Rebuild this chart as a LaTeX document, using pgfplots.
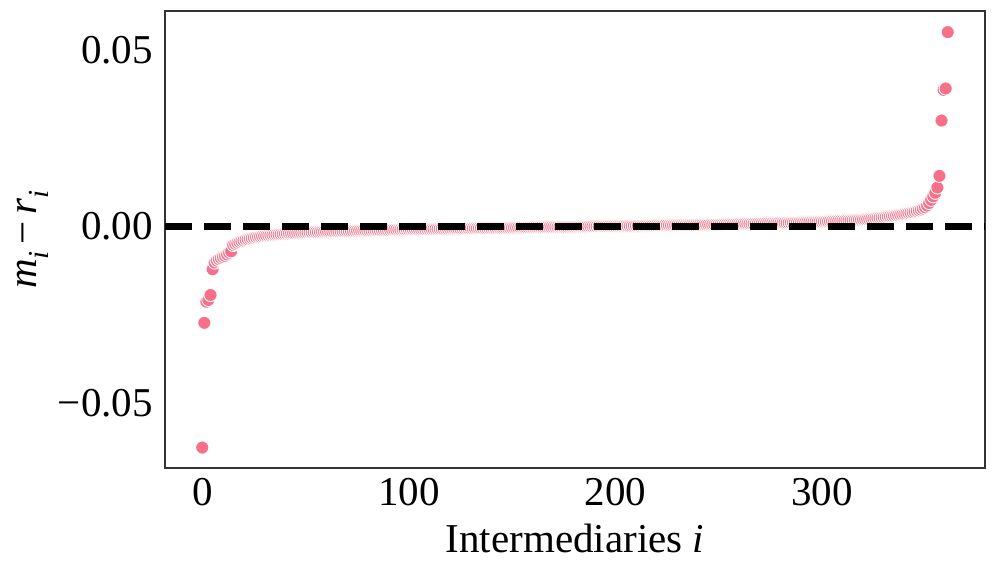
\documentclass[border=0pt]{standalone}
\usepackage{fontspec}
\setmainfont{Liberation Serif}
\usepackage{pgfplots}
\pgfplotsset{compat=1.18}
\definecolor{pts}{RGB}{247,112,137}
\definecolor{axgray}{RGB}{51,51,51}
\begin{document}
\begin{tikzpicture}
\begin{axis}[
 at={(0pt,0pt)}, anchor=south west,
 scale only axis, width=820pt, height=457pt,
 clip mode=individual,
 xmin=-18.05, xmax=379.05, ymin=-0.0685, ymax=0.0612,
 axis line style={axgray, line width=1.25pt},
 major tick length=0pt,
 xtick={0,100,200,300}, xticklabels={0,100,200,300},
 ytick={-0.05,0,0.05}, yticklabels={−0.05,0.00,0.05},
 scaled y ticks=false, scaled x ticks=false,
 font=\fontsize{41}{49}\selectfont,
 xticklabel style={anchor=north, inner sep=0pt, yshift=-10pt},
 yticklabel style={anchor=east, inner sep=0pt, xshift=-12pt},
 xlabel={Intermediaries \textit{i}},
 ylabel={\textit{m}\raisebox{-0.28em}{\fontsize{29}{30}\selectfont\textit{i}}\,−\,\textit{r}\raisebox{-0.28em}{\fontsize{29}{30}\selectfont\textit{i}}},
 xlabel style={at={(axis description cs:0.5,-0.1838)}, anchor=base, inner sep=0pt},
 ylabel style={at={(axis description cs:-0.161,0.5)}, anchor=center, inner sep=0pt},
]
\addplot[only marks, mark=*, mark size=6.6pt, mark options={fill=pts, draw=white, line width=0.9pt}] coordinates {
(0,-62.7e-3) (1,-27.3e-3) (2,-21.3e-3) (3,-20.8e-3) (4,-19.4e-3) (5,-12.1e-3) (6,-10.2e-3) (7,-9.6e-3) (8,-9.2e-3) (9,-8.9e-3)
(10,-8.6e-3) (11,-8.3e-3) (12,-7.9e-3) (13,-7.4e-3) (14,-7.0e-3) (15,-5.2e-3) (16,-4.9e-3) (17,-4.6e-3) (18,-4.35e-3) (19,-4.1e-3)
(20,-3.9e-3) (21,-3.7e-3) (22,-3.55e-3) (23,-3.4e-3) (24,-3.25e-3) (25,-3.12e-3) (26,-3.0e-3) (27,-2.9e-3) (28,-2.8e-3) (29,-2.71e-3)
(30,-2.63e-3) (31,-2.55e-3) (32,-2.48e-3) (33,-2.41e-3) (34,-2.35e-3) (35,-2.29e-3) (36,-2.23e-3) (37,-2.18e-3) (38,-2.13e-3) (39,-2.08e-3)
(40,-2.03e-3) (41,-1.99e-3) (42,-1.95e-3) (43,-1.91e-3) (44,-1.87e-3) (45,-1.83e-3) (46,-1.79e-3) (47,-1.75e-3) (48,-1.71e-3) (49,-1.67e-3)
(50,-1.64e-3) (51,-1.62e-3) (52,-1.60e-3) (53,-1.59e-3) (54,-1.57e-3) (55,-1.55e-3) (56,-1.53e-3) (57,-1.51e-3) (58,-1.49e-3) (59,-1.47e-3)
(60,-1.45e-3) (61,-1.43e-3) (62,-1.42e-3) (63,-1.40e-3) (64,-1.38e-3) (65,-1.36e-3) (66,-1.34e-3) (67,-1.32e-3) (68,-1.31e-3) (69,-1.29e-3)
(70,-1.27e-3) (71,-1.25e-3) (72,-1.24e-3) (73,-1.22e-3) (74,-1.20e-3) (75,-1.18e-3) (76,-1.17e-3) (77,-1.15e-3) (78,-1.13e-3) (79,-1.12e-3)
(80,-1.10e-3) (81,-1.08e-3) (82,-1.07e-3) (83,-1.05e-3) (84,-1.04e-3) (85,-1.02e-3) (86,-1.01e-3) (87,-0.99e-3) (88,-0.98e-3) (89,-0.96e-3)
(90,-0.95e-3) (91,-0.93e-3) (92,-0.92e-3) (93,-0.90e-3) (94,-0.89e-3) (95,-0.88e-3) (96,-0.86e-3) (97,-0.85e-3) (98,-0.84e-3) (99,-0.82e-3)
(100,-0.81e-3) (101,-0.80e-3) (102,-0.79e-3) (103,-0.78e-3) (104,-0.77e-3) (105,-0.76e-3) (106,-0.75e-3) (107,-0.74e-3) (108,-0.73e-3) (109,-0.72e-3)
(110,-0.71e-3) (111,-0.70e-3) (112,-0.69e-3) (113,-0.68e-3) (114,-0.67e-3) (115,-0.66e-3) (116,-0.65e-3) (117,-0.64e-3) (118,-0.63e-3) (119,-0.62e-3)
(120,-0.61e-3) (121,-0.60e-3) (122,-0.59e-3) (123,-0.58e-3) (124,-0.57e-3) (125,-0.56e-3) (126,-0.55e-3) (127,-0.54e-3) (128,-0.53e-3) (129,-0.52e-3)
(130,-0.51e-3) (131,-0.50e-3) (132,-0.49e-3) (133,-0.48e-3) (134,-0.47e-3) (135,-0.46e-3) (136,-0.45e-3) (137,-0.44e-3) (138,-0.43e-3) (139,-0.42e-3)
(140,-0.41e-3) (141,-0.40e-3) (142,-0.39e-3) (143,-0.38e-3) (144,-0.37e-3) (145,-0.36e-3) (146,-0.35e-3) (147,-0.34e-3) (148,-0.33e-3) (149,-0.32e-3)
(150,-0.31e-3) (151,-0.30e-3) (152,-0.29e-3) (153,-0.28e-3) (154,-0.27e-3) (155,-0.26e-3) (156,-0.25e-3) (157,-0.24e-3) (158,-0.23e-3) (159,-0.22e-3)
(160,-0.21e-3) (161,-0.20e-3) (162,-0.19e-3) (163,-0.18e-3) (164,-0.17e-3) (165,-0.16e-3) (166,-0.15e-3) (167,-0.14e-3) (168,-0.13e-3) (169,-0.12e-3)
(170,-0.11e-3) (171,-0.10e-3) (172,-0.09e-3) (173,-0.08e-3) (174,-0.07e-3) (175,-0.06e-3) (176,-0.05e-3) (177,-0.04e-3) (178,-0.03e-3) (179,-0.02e-3)
(180,-0.01e-3) (181,0.00e-3) (182,0.01e-3) (183,0.02e-3) (184,0.03e-3) (185,0.03e-3) (186,0.04e-3) (187,0.05e-3) (188,0.06e-3) (189,0.07e-3)
(190,0.08e-3) (191,0.09e-3) (192,0.10e-3) (193,0.10e-3) (194,0.11e-3) (195,0.12e-3) (196,0.13e-3) (197,0.14e-3) (198,0.15e-3) (199,0.16e-3)
(200,0.17e-3) (201,0.17e-3) (202,0.18e-3) (203,0.19e-3) (204,0.20e-3) (205,0.21e-3) (206,0.22e-3) (207,0.23e-3) (208,0.23e-3) (209,0.24e-3)
(210,0.25e-3) (211,0.26e-3) (212,0.27e-3) (213,0.28e-3) (214,0.29e-3) (215,0.30e-3) (216,0.30e-3) (217,0.31e-3) (218,0.32e-3) (219,0.33e-3)
(220,0.34e-3) (221,0.35e-3) (222,0.36e-3) (223,0.37e-3) (224,0.37e-3) (225,0.38e-3) (226,0.39e-3) (227,0.40e-3) (228,0.41e-3) (229,0.42e-3)
(230,0.43e-3) (231,0.43e-3) (232,0.44e-3) (233,0.45e-3) (234,0.46e-3) (235,0.47e-3) (236,0.48e-3) (237,0.49e-3) (238,0.50e-3) (239,0.50e-3)
(240,0.51e-3) (241,0.52e-3) (242,0.53e-3) (243,0.54e-3) (244,0.55e-3) (245,0.56e-3) (246,0.57e-3) (247,0.57e-3) (248,0.58e-3) (249,0.59e-3)
(250,0.60e-3) (251,0.62e-3) (252,0.63e-3) (253,0.65e-3) (254,0.66e-3) (255,0.68e-3) (256,0.69e-3) (257,0.71e-3) (258,0.72e-3) (259,0.74e-3)
(260,0.75e-3) (261,0.77e-3) (262,0.78e-3) (263,0.80e-3) (264,0.81e-3) (265,0.83e-3) (266,0.84e-3) (267,0.86e-3) (268,0.87e-3) (269,0.89e-3)
(270,0.90e-3) (271,0.92e-3) (272,0.93e-3) (273,0.95e-3) (274,0.96e-3) (275,0.98e-3) (276,0.99e-3) (277,1.01e-3) (278,1.02e-3) (279,1.04e-3)
(280,1.05e-3) (281,1.07e-3) (282,1.08e-3) (283,1.10e-3) (284,1.11e-3) (285,1.13e-3) (286,1.14e-3) (287,1.16e-3) (288,1.17e-3) (289,1.19e-3)
(290,1.20e-3) (291,1.22e-3) (292,1.24e-3) (293,1.26e-3) (294,1.28e-3) (295,1.30e-3) (296,1.32e-3) (297,1.34e-3) (298,1.36e-3) (299,1.38e-3)
(300,1.40e-3) (301,1.43e-3) (302,1.46e-3) (303,1.49e-3) (304,1.52e-3) (305,1.55e-3) (306,1.58e-3) (307,1.61e-3) (308,1.64e-3) (309,1.67e-3)
(310,1.70e-3) (311,1.73e-3) (312,1.76e-3) (313,1.79e-3) (314,1.82e-3) (315,1.85e-3) (316,1.88e-3) (317,1.91e-3) (318,1.94e-3) (319,1.97e-3)
(320,2.00e-3) (321,2.06e-3) (322,2.12e-3) (323,2.18e-3) (324,2.25e-3) (325,2.32e-3) (326,2.39e-3) (327,2.46e-3) (328,2.53e-3) (329,2.60e-3)
(330,2.68e-3) (331,2.76e-3) (332,2.84e-3) (333,2.92e-3) (334,3.00e-3) (335,3.10e-3) (336,3.20e-3) (337,3.30e-3) (338,3.40e-3) (339,3.50e-3)
(340,3.60e-3) (341,3.72e-3) (342,3.85e-3) (343,3.98e-3) (344,4.12e-3) (345,4.28e-3) (346,4.45e-3) (347,4.65e-3) (348,4.88e-3) (349,5.15e-3)
(350,5.50e-3) (351,6.00e-3) (352,6.70e-3) (353,7.60e-3) (354,8.60e-3) (355,9.60e-3) (356,11.1e-3) (357,14.4e-3) (358,30.1e-3) (359,38.8e-3)
(360,39.2e-3) (361,55.2e-3)
};
\addplot[black, line width=7pt, dash pattern=on 27pt off 12pt] coordinates {(-18.05,0) (379.05,0)};
\end{axis}
\pgfresetboundingbox
\useasboundingbox (-165pt,-102pt) rectangle (831pt,468pt);
\end{tikzpicture}
\end{document}
